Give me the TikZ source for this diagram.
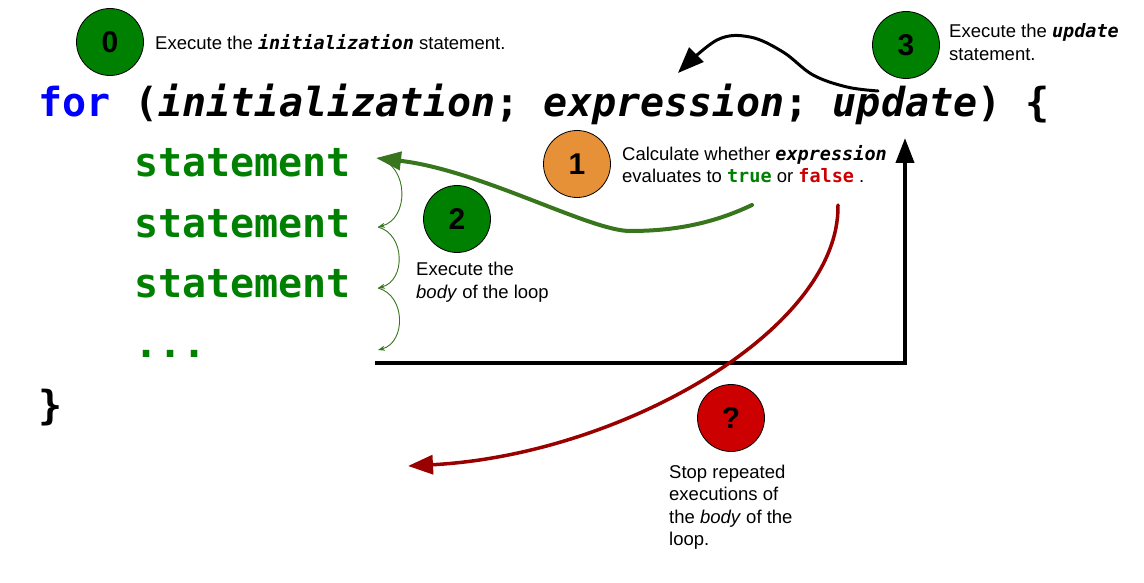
\documentclass[tikz,border=0pt]{standalone}
\usepackage{fontspec}
\setmainfont{Liberation Sans}
\newfontfamily\codefont{DejaVu Sans Mono}
\usetikzlibrary{arrows.meta}
\definecolor{circgreen}{RGB}{0,128,0}
\definecolor{circorange}{RGB}{230,145,56}
\definecolor{circred}{RGB}{204,0,0}
\definecolor{arrgreen}{RGB}{56,118,29}
\definecolor{arrred}{RGB}{153,0,0}
\definecolor{codegreen}{RGB}{0,128,0}
\definecolor{codeblue}{RGB}{0,0,255}
\definecolor{codered}{RGB}{204,0,0}
\newcommand\cbi[1]{{\codefont\bfseries\itshape #1}}
\newcommand\cbu[1]{{\codefont\bfseries #1}}
\begin{document}
\begin{tikzpicture}[x=1pt,y=-1pt,
  stepcirc/.style={circle, draw=black, line width=0.8pt, minimum size=67pt, inner sep=0pt, font=\fontsize{30}{32}\selectfont\bfseries},
  lbl/.style={anchor=west, align=left, inner sep=0pt, font=\fontsize{18.5}{22.5}\selectfont},
  codeline/.style={anchor=base west, inner sep=0pt, font=\fontsize{40}{48}\codefont\bfseries},
  bigline/.style={line width=4pt},
]
\fill[white] (0,0) rectangle (1144,583);
\useasboundingbox (0,0) rectangle (1144,583);

% code
\node[codeline] (forl) at (38,117) {\textcolor{codeblue}{for} (\textit{initialization}; \textit{expression}; \textit{update}) \{};
\node[codeline, text=codegreen] (s1) at (134,177) {statement};
\node[codeline, text=codegreen] (s2) at (134,237) {statement};
\node[codeline, text=codegreen] (s3) at (134,297) {statement};
\node[codeline, text=codegreen] (s4) at (134,357) {...};
\node[codeline] (close) at (38,419) {\}};

% circles
\node[stepcirc, fill=circgreen] (c0) at (110,42) {0};
\node[stepcirc, fill=circgreen] (c3) at (906,45) {3};
\node[stepcirc, fill=circorange] (c1) at (577,164) {1};
\node[stepcirc, fill=circgreen] (c2) at (457,219) {2};
\node[stepcirc, fill=circred] (cq) at (731,418) {?};

% labels
\node[lbl] (t0) at (155,42) {Execute the \cbi{initialization} statement.};
\node[lbl] (t3) at (949,42) {Execute the \cbi{update}\\statement.};
\node[lbl] (t1) at (622,164) {Calculate whether \cbi{expression}\\evaluates to \textcolor{codegreen}{\cbu{true}} or \textcolor{codered}{\cbu{false}} .};
\node[lbl] (t2) at (416,282) {Execute the\\\textit{body} of the loop};
\node[lbl] (tq) at (669,507) {Stop repeated\\executions of\\the \textit{body} of the\\loop.};

% coordinates
\coordinate (gS) at (752,205);
\coordinate (gE) at (376,158);
\coordinate (a1) at (378,158);
\coordinate (a2) at (378,227);
\coordinate (a3) at (378,288);
\coordinate (a4) at (378,350);
\coordinate (bS) at (375,363);
\coordinate (bC) at (905,363);
\coordinate (bE) at (905,138);
\coordinate (rS) at (838,205);
\coordinate (rE) at (408,466);
\coordinate (tS) at (878,91);
\coordinate (tE) at (678,73);

% green arrow (true)
\draw[arrgreen, bigline, line cap=round, -{Triangle[length=25pt,width=18pt]}]
  (gS) .. controls (710,225) and (670,231) .. (630,231) .. controls (590,231) and (480,170) .. (gE);

% body arcs
\foreach \p/\q in {a1/a2,a2/a3,a3/a4}
  \draw[arrgreen, line width=0.9pt, -{Stealth[length=7pt,width=5pt]}] (\p) to[out=-15,in=15,looseness=1.2] (\q);

% black elbow
\draw[black, bigline, -{Triangle[length=25pt,width=18pt]}] (bS) -- (bC) -- (bE);

% red arrow (false)
\draw[arrred, line width=3.5pt, line cap=round, -{Triangle[length=25pt,width=19pt]}]
  (rS) .. controls (840,330) and (620,455) .. (rE);

% black update arrow
\draw[black, line width=3pt, line cap=round, -{Triangle[length=26pt,width=20pt]}]
  plot[smooth, tension=0.6] coordinates {(tS) (847,87) (813,75) (783,52) (750,37) (717,40) (tE)};
\end{tikzpicture}
\end{document}
